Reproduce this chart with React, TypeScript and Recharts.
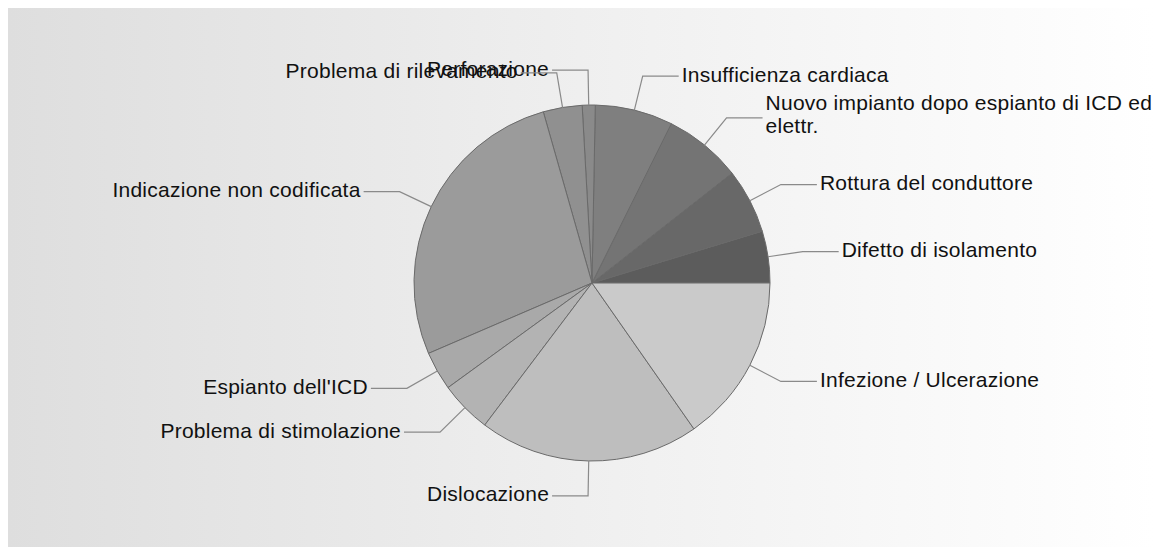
import { Pie, PieChart, Cell } from "recharts";

const CATEGORIE = [
  "Difetto di isolamento",
  "Rottura del conduttore",
  "Nuovo impianto dopo espianto di ICD ed elettr.",
  "Insufficienza cardiaca",
  "Perforazione",
  "Problema di rilevamento",
  "Indicazione non codificata",
  "Espianto dell'ICD",
  "Problema di stimolazione",
  "Dislocazione",
  "Infezione / Ulcerazione",
];

const CASI = [4, 5, 6, 6, 1, 3, 23, 3, 4, 17, 13];

const GRIGI = [
  "#5c5c5c",
  "#686868",
  "#747474",
  "#7f7f7f",
  "#8a8a8a",
  "#909090",
  "#9b9b9b",
  "#a9a9a9",
  "#b3b3b3",
  "#bebebe",
  "#cacaca",
];

const RADIAN = Math.PI / 180;
const MAX_CARATTERI = 38;

function spezzaTesto(testo: string): string[] {
  const righe: string[] = [];
  let corrente = "";
  for (const parola of testo.split(" ")) {
    const prova = corrente ? corrente + " " + parola : parola;
    if (prova.length > MAX_CARATTERI && corrente) {
      righe.push(corrente);
      corrente = parola;
    } else {
      corrente = prova;
    }
  }
  if (corrente) righe.push(corrente);
  return righe;
}

function Etichetta(props: any) {
  const { cx, cy, midAngle, outerRadius, name } = props;
  const cos = Math.cos(-midAngle * RADIAN);
  const sin = Math.sin(-midAngle * RADIAN);
  const x0 = cx + outerRadius * cos;
  const y0 = cy + outerRadius * sin;
  const x1 = cx + (outerRadius + 35) * cos;
  const y1 = cy + (outerRadius + 35) * sin;
  const dir = cos >= 0 ? 1 : -1;
  const x2 = x1 + dir * 36;
  const righe = spezzaTesto(name);
  const passo = 23.5;
  const inizio = -((righe.length - 1) * passo) / 2 - (righe.length > 1 ? 2 : 0);
  return (
    <g>
      <polyline
        points={`${x0},${y0} ${x1},${y1} ${x2},${y1}`}
        fill="none"
        stroke="#8a8a8a"
        strokeWidth={1.2}
      />
      <text
        x={x2 + dir * 3}
        y={y1}
        textAnchor={dir > 0 ? "start" : "end"}
        fill="#111"
        fontSize={21}
        letterSpacing={0.25}
        fontFamily="'Liberation Sans', Arial, sans-serif"
      >
        {righe.map((r, i) => (
          <tspan key={i} x={x2 + dir * 3} dy={i === 0 ? inizio + 5.5 : passo}>
            {r}
          </tspan>
        ))}
      </text>
    </g>
  );
}

export default function App() {
  const dati = CATEGORIE.map((nome, i) => ({ nome, casi: CASI[i] }));

  return (
    <div
      style={{
        width: 1146,
        height: 540,
        marginTop: -1,
        background: "linear-gradient(to right, #dedede 0%, #efefef 50%, #ffffff 100%)",
      }}
    >
      <PieChart width={1146} height={540}>
        <Pie
          data={dati}
          dataKey="casi"
          nameKey="nome"
          cx={579}
          cy={271}
          outerRadius={178}
          startAngle={0}
          endAngle={360}
          stroke="#6a6a6a"
          strokeWidth={1}
          label={Etichetta}
          labelLine={false}
          isAnimationActive={false}
        >
          {dati.map((_, i) => (
            <Cell key={i} fill={GRIGI[i]} />
          ))}
        </Pie>
      </PieChart>
    </div>
  );
}
